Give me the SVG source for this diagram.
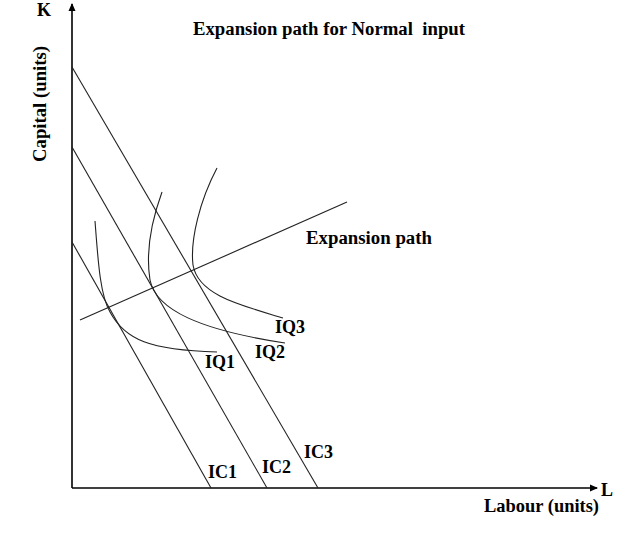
<svg xmlns="http://www.w3.org/2000/svg" width="643" height="537" viewBox="0 0 643 537">
<style>
text{font-family:"Liberation Serif","Times New Roman",serif;font-weight:bold;fill:#000}
.lbl{font-size:18px}
.ln{stroke:#222;stroke-width:1.1;fill:none}
.ax{stroke:#000;stroke-width:1.6;fill:none}
</style>
<defs>
<marker id="ah" markerWidth="8" markerHeight="8" refX="7" refY="4" orient="auto" markerUnits="userSpaceOnUse">
<path d="M0,0.5 L8,4 L0,7.5 Z" fill="#000"/>
</marker>
</defs>
<rect width="643" height="537" fill="#fff"/>
<g id="axes">
<line class="ax" x1="72" y1="488" x2="72" y2="4" marker-end="url(#ah)"/>
<line class="ax" x1="72" y1="488" x2="597" y2="488" marker-end="url(#ah)"/>
<text x="37" y="16" class="lbl">K</text>
<text x="601" y="496" class="lbl">L</text>
<text x="484" y="512" class="lbl" textLength="115" lengthAdjust="spacingAndGlyphs">Labour (units)</text>
<text transform="translate(46,104) rotate(-90)" text-anchor="middle" class="lbl" textLength="116" lengthAdjust="spacingAndGlyphs">Capital (units)</text>
<text x="193" y="35" class="lbl" xml:space="preserve" textLength="272" lengthAdjust="spacingAndGlyphs">Expansion path for Normal  input</text>
</g>
<g id="connectors">
<line id="IC1" class="ln" x1="72" y1="242" x2="211" y2="488"/>
<line id="IC2" class="ln" x1="72" y1="147" x2="267" y2="488"/>
<line id="IC3" class="ln" x1="72" y1="67" x2="318" y2="488"/>
<line id="exp" class="ln" x1="80" y1="320" x2="347" y2="202"/>
<path id="IQ1" class="ln" d="M95,221 C98,260 100,295 110,312 C125,340 150,350 217,352"/>
<path id="IQ2" class="ln" d="M162,192 C150,225 146,255 150,280 C156,310 200,330 285,343"/>
<path id="IQ3" class="ln" d="M217,168 C200,200 190,240 193,265 C198,295 240,305 283,318"/>
</g>
<g id="labels">
<text x="208" y="478" class="lbl">IC1</text>
<text x="262" y="473" class="lbl">IC2</text>
<text x="304" y="458" class="lbl">IC3</text>
<text x="205" y="368" class="lbl">IQ1</text>
<text x="255" y="358" class="lbl">IQ2</text>
<text x="275" y="333" class="lbl">IQ3</text>
<text x="306" y="244" class="lbl" textLength="126" lengthAdjust="spacingAndGlyphs">Expansion path</text>
</g>
</svg>
